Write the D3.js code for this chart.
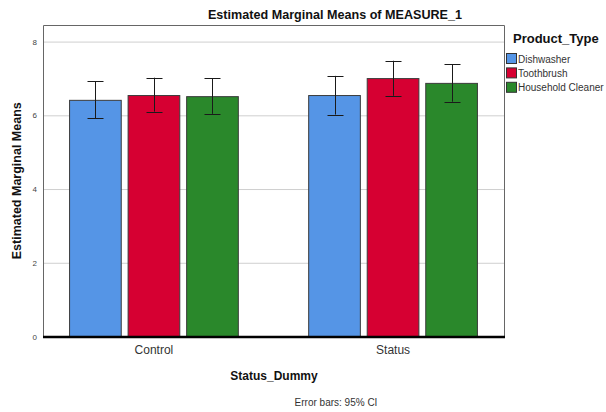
<!DOCTYPE html>
<html>
<head>
<meta charset="utf-8">
<script src="https://cdn.jsdelivr.net/npm/d3@7"></script>
<style>
  html, body { margin: 0; padding: 0; background: #fff; }
  svg { display: block; font-family: Arial, "Liberation Sans", sans-serif; }
</style>
</head>
<body>
<svg id="chart" width="606" height="412"></svg>
<script>
// Groups on the x axis and the product series drawn within each group
const groups = ["Control", "Status"];
const series = ["Dishwasher", "Toothbrush", "Household Cleaner"];
const seriesColors = ["#5595e6", "#d60032", "#2a882b"];

// Estimated marginal means, one array per series (Control, Status)
const dishwasherMeans = [6.42, 6.55];
const toothbrushMeans = [6.55, 7.01];
const cleanerMeans = [6.52, 6.88];

// 95% CI bounds (lower, upper), one array per series (Control, Status)
const dishwasherLower = [5.92, 6.02];
const dishwasherUpper = [6.93, 7.07];
const toothbrushLower = [6.10, 6.53];
const toothbrushUpper = [7.02, 7.48];
const cleanerLower = [6.04, 6.37];
const cleanerUpper = [7.01, 7.38];

const yTicks = [0, 2, 4, 6, 8];

const means = [dishwasherMeans, toothbrushMeans, cleanerMeans];
const lowers = [dishwasherLower, toothbrushLower, cleanerLower];
const uppers = [dishwasherUpper, toothbrushUpper, cleanerUpper];

const rows = [];
groups.forEach((g, gi) => {
  series.forEach((s, si) => {
    rows.push({ group: g, series: s, mean: means[si][gi], lo: lowers[si][gi], hi: uppers[si][gi], color: seriesColors[si] });
  });
});

const svg = d3.select("#chart");
const plot = { left: 43, right: 504, top: 25, bottom: 336.5 };

const x = d3.scaleBand().domain(groups).range([plot.left, plot.right]).paddingInner(0.29).paddingOuter(0.109);
const xs = d3.scaleBand().domain(series).range([0, x.bandwidth()]).paddingInner(0.1);
const y = d3.scaleLinear().domain([0, 8.45]).range([plot.bottom, plot.top]);

// Horizontal gridlines
svg.append("g").selectAll("line").data(yTicks.filter(t => t > 0)).join("line")
  .attr("x1", plot.left).attr("x2", plot.right)
  .attr("y1", d => y(d) + 0.5).attr("y2", d => y(d) + 0.5)
  .attr("stroke", "#cfcfcf").attr("stroke-width", 1);

// Frame (left, top, right)
svg.append("path")
  .attr("d", `M${plot.left + 0.5},${plot.bottom} V${plot.top + 0.5} H${plot.right + 0.5} V${plot.bottom}`)
  .attr("fill", "none").attr("stroke", "#666").attr("stroke-width", 1);

// Y axis tick labels
const yAxis = d3.axisLeft(y).tickValues(yTicks).tickSize(0).tickPadding(6).tickFormat(d3.format("d"));
const yg = svg.append("g").attr("transform", `translate(${plot.left},0)`).call(yAxis);
yg.select(".domain").remove();
yg.selectAll("text").attr("font-size", 8).attr("fill", "#444").attr("font-family", "Arial, 'Liberation Sans', sans-serif");

// Bars
svg.append("g").selectAll("rect").data(rows).join("rect")
  .attr("x", d => x(d.group) + xs(d.series) + 0.5)
  .attr("y", d => y(d.mean) + 0.5)
  .attr("width", xs.bandwidth() - 1)
  .attr("height", d => y(0) - y(d.mean) - 0.5)
  .attr("fill", d => d.color)
  .attr("stroke", "#3b3b3b").attr("stroke-width", 1);

// Error bars (95% CI)
const capHalf = 8;
const eb = svg.append("g").attr("stroke", "#1a1a1a").attr("stroke-width", 1);
rows.forEach(d => {
  const cx = Math.round(x(d.group) + xs(d.series) + xs.bandwidth() / 2) + 0.5;
  eb.append("line").attr("x1", cx).attr("x2", cx).attr("y1", y(d.hi)).attr("y2", y(d.lo));
  eb.append("line").attr("x1", cx - capHalf).attr("x2", cx + capHalf).attr("y1", Math.round(y(d.hi)) + 0.5).attr("y2", Math.round(y(d.hi)) + 0.5);
  eb.append("line").attr("x1", cx - capHalf).attr("x2", cx + capHalf).attr("y1", Math.round(y(d.lo)) + 0.5).attr("y2", Math.round(y(d.lo)) + 0.5);
});

// Baseline
svg.append("line")
  .attr("x1", plot.left).attr("x2", plot.right + 1)
  .attr("y1", y(0) + 0.5).attr("y2", y(0) + 0.5)
  .attr("stroke", "#000").attr("stroke-width", 2.5);

// X axis category labels
const xAxis = d3.axisBottom(x).tickSize(0).tickPadding(8);
const xg = svg.append("g").attr("transform", `translate(0,${y(0) + 1})`).call(xAxis);
xg.select(".domain").remove();
xg.selectAll("text").attr("font-size", 12).attr("fill", "#333").attr("font-family", "Arial, 'Liberation Sans', sans-serif");

// Titles
svg.append("text").attr("x", 335).attr("y", 19).attr("text-anchor", "middle")
  .attr("font-size", 12.6).attr("font-weight", "bold").attr("fill", "#111")
  .text("Estimated Marginal Means of MEASURE_1");

svg.append("text").attr("transform", `translate(21,${(plot.top + plot.bottom) / 2}) rotate(-90)`)
  .attr("text-anchor", "middle").attr("font-size", 12.5).attr("font-weight", "bold").attr("fill", "#111")
  .text("Estimated Marginal Means");

svg.append("text").attr("x", 274).attr("y", 380).attr("text-anchor", "middle")
  .attr("font-size", 12).attr("font-weight", "bold").attr("fill", "#111")
  .text("Status_Dummy");

svg.append("text").attr("x", 336).attr("y", 406).attr("text-anchor", "middle")
  .attr("font-size", 10).attr("fill", "#333")
  .text("Error bars: 95% CI");

// Legend
const legend = svg.append("g").attr("transform", "translate(506,0)");
legend.append("text").attr("x", 7).attr("y", 43)
  .attr("font-size", 13).attr("font-weight", "bold").attr("fill", "#111")
  .text("Product_Type");
const li = legend.selectAll("g.item").data(series).join("g").attr("class", "item")
  .attr("transform", (d, i) => `translate(0,${53 + i * 14.4})`);
li.append("rect").attr("x", 0.5).attr("y", 0.5).attr("width", 10).attr("height", 10)
  .attr("fill", (d, i) => seriesColors[i]).attr("stroke", "#333").attr("stroke-width", 1);
li.append("text").attr("x", 12).attr("y", 9.5)
  .attr("font-size", 10).attr("fill", "#333").text(d => d);
</script>
</body>
</html>
